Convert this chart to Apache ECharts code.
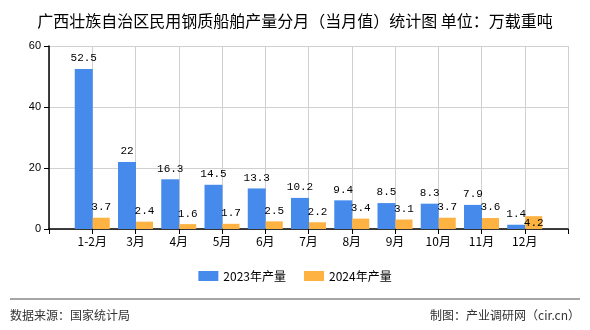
<!DOCTYPE html>
<html>
<head>
<meta charset="utf-8">
<script src="https://cdn.jsdelivr.net/npm/echarts@6/dist/echarts.min.js"></script>
<style>
  html, body { margin: 0; padding: 0; background: #fff; }
  #chart { width: 590px; height: 330px; }
</style>
</head>
<body>
<div id="chart"></div>
<script>
// Monthly output of civilian steel ships, Guangxi (10k DWT)
const months = ['1-2月', '3月', '4月', '5月', '6月', '7月', '8月', '9月', '10月', '11月', '12月'];
const output2023 = [52.5, 22, 16.3, 14.5, 13.3, 10.2, 9.4, 8.5, 8.3, 7.9, 1.4];
const output2024 = [3.7, 2.4, 1.6, 1.7, 2.5, 2.2, 3.4, 3.1, 3.7, 3.6, 4.2];
const yTicks = [0, 20, 40, 60];

// the axis keeps an empty slot at each end so months sit on the grid lines
const pad = arr => ['-'].concat(arr, ['-']);
const axisCats = [''].concat(months, ['']);

// the December 2024 label sits inside its bar to stay clear of the neighbouring label
const items2024 = output2024.map((v, i) =>
  i === output2024.length - 1 ? { value: v, label: { position: 'inside' } } : v
);

const chart = echarts.init(document.getElementById('chart'));
const labelStyle = {
  show: true,
  position: 'top',
  distance: 5,
  color: '#000',
  fontSize: 11,
  fontFamily: 'Liberation Mono, monospace'
};

chart.setOption({
  animation: false,
  title: {
    text: '广西壮族自治区民用钢质船舶产量分月（当月值）统计图 单位：万载重吨',
    left: 'center',
    top: 8,
    textStyle: { fontSize: 16, fontWeight: 'normal', color: '#000', fontFamily: 'Noto Sans CJK SC' }
  },
  legend: {
    bottom: 43,
    left: 'center',
    itemWidth: 20,
    itemHeight: 10,
    itemGap: 18,
    icon: 'rect',
    textStyle: { fontSize: 12, color: '#000', fontFamily: 'Noto Sans CJK SC' },
    data: ['2023年产量', '2024年产量']
  },
  grid: { left: 49, right: 22, top: 46, bottom: 101 },
  xAxis: {
    type: 'category',
    data: axisCats,
    boundaryGap: false,
    axisLine: { lineStyle: { color: '#000', width: 1.5 } },
    axisTick: { show: true, interval: 0, length: 5, lineStyle: { color: '#000' } },
    axisLabel: { interval: 0, color: '#000', fontSize: 12, margin: 6, fontFamily: 'Noto Sans CJK SC' },
    splitLine: { show: true, interval: 0, lineStyle: { color: '#d0d0d0', width: 1 } }
  },
  yAxis: {
    type: 'value',
    min: yTicks[0],
    max: yTicks[yTicks.length - 1],
    interval: 20,
    axisLine: { show: true, lineStyle: { color: '#000', width: 1.5 } },
    axisTick: { show: true, length: 5, lineStyle: { color: '#000' } },
    axisLabel: { color: '#000', fontSize: 11, margin: 8, fontFamily: 'Liberation Sans, Arial' },
    splitLine: { show: true, lineStyle: { color: '#d0d0d0', width: 1 } }
  },
  series: [
    {
      name: '2023年产量',
      type: 'bar',
      data: pad(output2023),
      barWidth: 18,
      barGap: '0%',
      itemStyle: { color: '#468BEB' },
      label: labelStyle
    },
    {
      name: '2024年产量',
      type: 'bar',
      data: pad(items2024),
      barWidth: 17,
      barGap: '0%',
      itemStyle: { color: '#FDB241' },
      label: labelStyle
    }
  ],
  graphic: [
    {
      type: 'line',
      shape: { x1: 10, y1: 299, x2: 580, y2: 299 },
      style: { stroke: '#888', lineWidth: 1.5 }
    },
    {
      type: 'text',
      left: 10,
      top: 309,
      style: { text: '数据来源：国家统计局', fontSize: 12, fill: '#333', fontFamily: 'Noto Sans CJK SC' }
    },
    {
      type: 'text',
      right: 10,
      top: 309,
      style: { text: '制图：产业调研网（cir.cn）', fontSize: 12, fill: '#333', fontFamily: 'Noto Sans CJK SC' }
    }
  ]
});
</script>
</body>
</html>
